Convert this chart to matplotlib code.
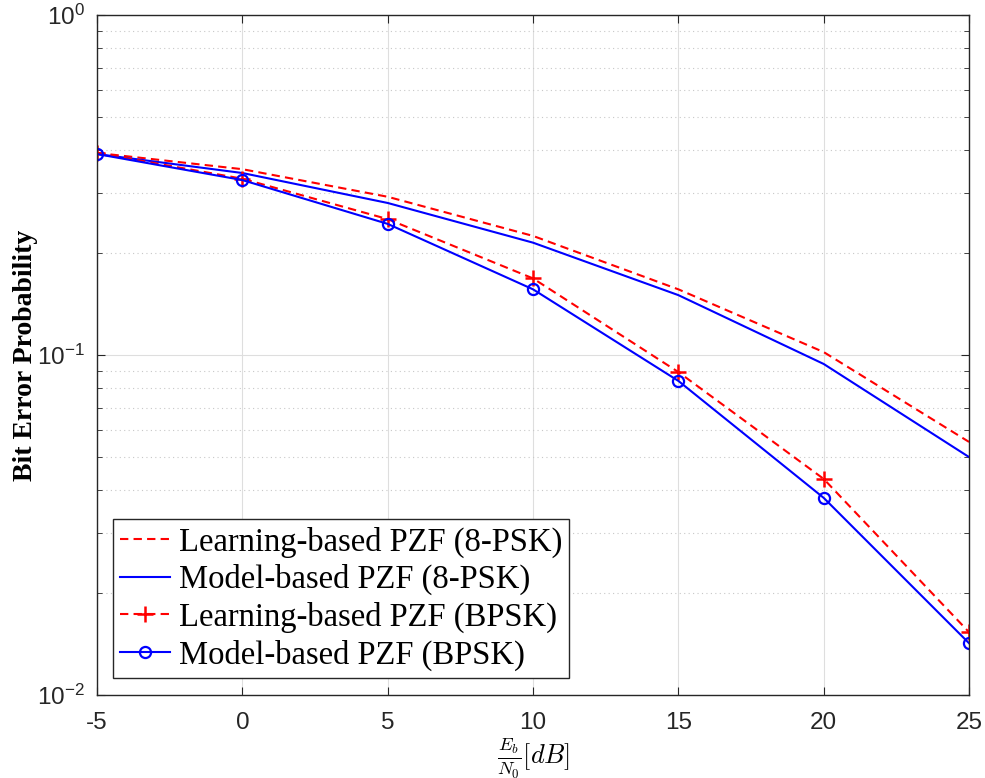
import matplotlib
matplotlib.use("Agg")
import matplotlib.pyplot as plt
from matplotlib.ticker import LogLocator, NullFormatter

plt.rcParams["font.family"] = "Liberation Sans"
plt.rcParams["mathtext.fontset"] = "custom"
plt.rcParams["mathtext.rm"] = "Liberation Sans"
plt.rcParams["mathtext.it"] = "Liberation Sans:italic"
plt.rcParams["axes.unicode_minus"] = False

snr = [-5, 0, 5, 10, 15, 20, 25]
learn_8psk = [0.393, 0.352, 0.292, 0.224, 0.156, 0.102, 0.0555]
model_8psk = [0.390, 0.343, 0.280, 0.214, 0.150, 0.0941, 0.0501]
learn_bpsk = [0.393, 0.330, 0.251, 0.168, 0.0891, 0.0432, 0.0153]
model_bpsk = [0.390, 0.327, 0.243, 0.156, 0.0839, 0.0380, 0.0142]

labels = ["Learning-based PZF (8-PSK)", "Model-based PZF (8-PSK)",
          "Learning-based PZF (BPSK)", "Model-based PZF (BPSK)"]

fig = plt.figure(figsize=(9.85, 7.78), dpi=100)
ax = fig.add_axes([0.0985, 0.1067, 0.8853, 0.874])

dash = (4, 2.5)
ax.semilogy(snr, learn_8psk, color="red", lw=1.5, ls="--", dashes=dash, label=labels[0])
ax.semilogy(snr, model_8psk, color="blue", lw=1.5, label=labels[1])
ax.semilogy(snr, learn_bpsk, color="red", lw=1.5, ls="--", dashes=dash, marker="+",
            ms=11, mew=1.8, label=labels[2])
ax.semilogy(snr, model_bpsk, color="blue", lw=1.5, marker="o", ms=8, mew=1.6,
            mfc="none", label=labels[3])

ax.set_xlim(-5, 25)
ax.set_ylim(1e-2, 1e0)
ax.set_xticks(snr)
ax.yaxis.set_minor_locator(LogLocator(base=10, subs=range(2, 10)))
ax.yaxis.set_minor_formatter(NullFormatter())

ax.grid(True, which="major", color="#dedede", lw=0.8, ls="-")
ax.grid(True, which="minor", axis="y", color="#c8c8c8", lw=0.8, ls=(0, (1, 3)))
ax.set_axisbelow(True)

ax.tick_params(which="both", direction="in", top=True, right=True, colors="#262626",
               labelcolor="#262626")
ax.tick_params(which="major", length=6, labelsize=17.5)
ax.tick_params(axis="x", which="major", pad=12)
ax.tick_params(axis="y", which="major", pad=9)
ax.tick_params(which="minor", length=3.5)
for sp in ax.spines.values():
    sp.set_color("#262626")
    sp.set_linewidth(1.0)

ax.set_ylabel("Bit Error Probability", family="Liberation Serif", fontweight="bold",
              fontsize=20, labelpad=-1)
ax.set_xlabel(r"$\frac{E_b}{N_0}[dB]$", fontsize=19, math_fontfamily="cm", labelpad=1)

leg = ax.legend(loc="lower left", bbox_to_anchor=(0.018, 0.025), borderaxespad=0,
                prop={"family": "Liberation Serif", "size": 23.5}, handlelength=1.55,
                handletextpad=0.25, labelspacing=0.2, borderpad=0.22, fancybox=False,
                framealpha=1)
leg.get_frame().set_edgecolor("#262626")
leg.get_frame().set_linewidth(1.0)

fig.savefig("out.png", dpi=100)
